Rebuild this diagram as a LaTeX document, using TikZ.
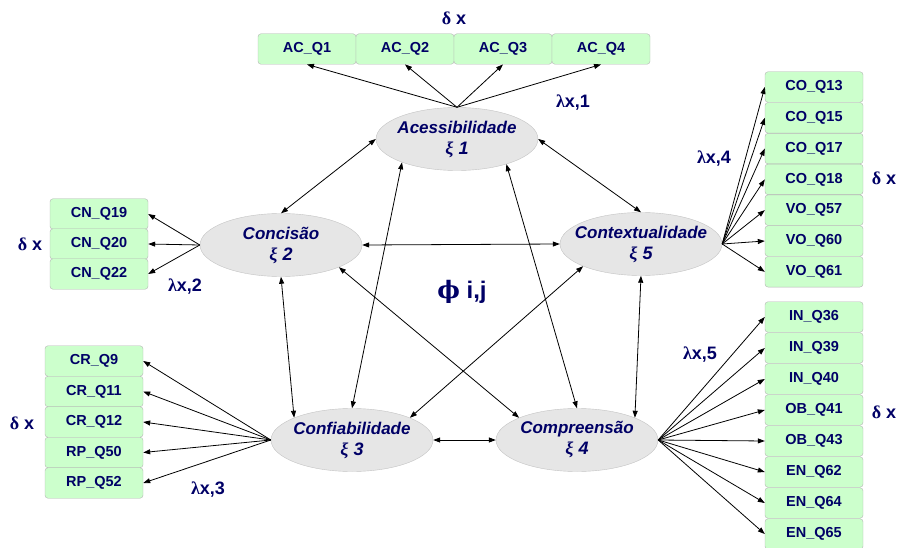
\documentclass[tikz,border=0pt]{standalone}
\usepackage{fontspec}
\setmainfont{Liberation Sans}
\newfontfamily\grk{Liberation Serif}
\newfontfamily\phifont{DejaVu Serif}
\usetikzlibrary{arrows.meta,shapes.geometric,positioning}
\definecolor{navy}{HTML}{000066}
\definecolor{boxgreen}{HTML}{CCFFCC}
\definecolor{boxline}{HTML}{B4B4B4}
\definecolor{latgray}{HTML}{E6E6E6}
\definecolor{latline}{HTML}{C3C3C3}
\newcommand{\latlab}[2]{\makebox[0pt]{#1}\\
  \makebox[0pt]{\fontsize{18}{21}\selectfont\bfseries\itshape{\grk\bfseries\itshape ξ} #2}}

\begin{document}
\begin{tikzpicture}[x=1pt, y=-1pt,
    item/.style={draw=boxline, fill=boxgreen, rounded corners=3pt, minimum width=98pt,
      minimum height=30.5pt, inner sep=0pt, text=navy,
      font=\fontsize{14.5}{14.5}\selectfont\bfseries},
    latent/.style={ellipse, draw=latline, fill=latgray, minimum width=162pt,
      minimum height=63pt, inner sep=0pt, align=center, text=navy,
      font=\fontsize{17}{21}\selectfont\bfseries\itshape},
    lbl/.style={inner sep=0pt, text=navy, font=\fontsize{18}{18}\selectfont\bfseries},
    load/.style={-{Triangle[length=7pt,width=5pt]}, line width=0.8pt},
    cov/.style={{Triangle[length=7pt,width=5pt]}-{Triangle[length=7pt,width=5pt]}, line width=0.8pt}]
    \useasboundingbox (0,0) rectangle (897,548);

    % latent variables
    \node [latent] (acc) at (457,139) {\latlab{Acessibilidade}{1}};
    \node [latent] (con) at (281,245) {\latlab{Concisão}{2}};
    \node [latent] (ctx) at (641,244) {\latlab{Contextualidade}{5}};
    \node [latent] (conf) at (352,440) {\latlab{Confiabilidade}{3}};
    \node [latent] (comp) at (577,440) {\latlab{Compreensão}{4}};

    % indicators
    \foreach \q [count=\i from 0] in {1,2,3,4}
      \node [item] (AC\q) at ({307+98*\i},49) {AC\_Q\q};
    \foreach \q [count=\i from 0] in {19,20,22}
      \node [item] (CN\q) at (99,{214+30*\i}) {CN\_Q\q};
    \foreach \p/\q [count=\i from 0] in {CO/13,CO/15,CO/17,CO/18,VO/57,VO/60,VO/61}
      \node [item] (\p\q) at (814,{87+30.8*\i}) {\p\_Q\q};
    \foreach \p/\q [count=\i from 0] in {CR/9,CR/11,CR/12,RP/50,RP/52}
      \node [item] (\p\q) at (94,{361+30.5*\i}) {\p\_Q\q};
    \foreach \p/\q [count=\i from 0] in {IN/36,IN/39,IN/40,OB/41,OB/43,EN/62,EN/64,EN/65}
      \node [item] (\p\q) at (814,{317+31*\i}) {\p\_Q\q};

    % loadings
    \foreach \n in {AC1,AC2,AC3,AC4}
      \draw [load] (acc.north) -- (\n.south);
    \foreach \n in {CN19,CN20,CN22}
      \draw [load] (con.west) -- (\n.east);
    \foreach \n in {CO13,CO15,CO17,CO18,VO57,VO60,VO61}
      \draw [load] (ctx.east) -- (\n.west);
    \foreach \n in {CR9,CR11,CR12,RP50,RP52}
      \draw [load] (conf.west) -- (\n.east);
    \foreach \n in {IN36,IN39,IN40,OB41,OB43,EN62,EN64,EN65}
      \draw [load] (comp.east) -- (\n.west);

    % correlations
    \draw [cov] (acc.west) -- (con.north);
    \draw [cov] (acc.east) -- (ctx.north);
    \draw [cov] (acc.203) -- (conf.north);
    \draw [cov] (acc.333) -- (comp.north);
    \draw [cov] (con.east) -- (ctx.west);
    \draw [cov] (con.south) -- (conf.159);
    \draw [cov] (con.339) -- (comp.159);
    \draw [cov] (ctx.201) -- (conf.21);
    \draw [cov] (ctx.south) -- (comp.21);
    \draw [cov] (conf.east) -- (comp.west);

    % labels
    \node [lbl] (dac) at (454,18) {{\grk δ} x};
    \node [lbl] (dcn) at (30,244) {{\grk δ} x};
    \node [lbl] (dco) at (884,178) {{\grk δ} x};
    \node [lbl] (dcr) at (22,423) {{\grk δ} x};
    \node [lbl] (din) at (884,412) {{\grk δ} x};
    \node [lbl] (l1) at (573,103) {{\grk λ}x,1};
    \node [lbl] (l2) at (185,287) {{\grk λ}x,2};
    \node [lbl] (l3) at (208,490) {{\grk λ}x,3};
    \node [lbl] (l4) at (714,159) {{\grk λ}x,4};
    \node [lbl] (l5) at (700,355) {{\grk λ}x,5};
    \node [lbl, font=\fontsize{24}{24}\selectfont\bfseries] (phi) at (462,292) {{\phifont ϕ} i,j};
  \end{tikzpicture}
\end{document}
